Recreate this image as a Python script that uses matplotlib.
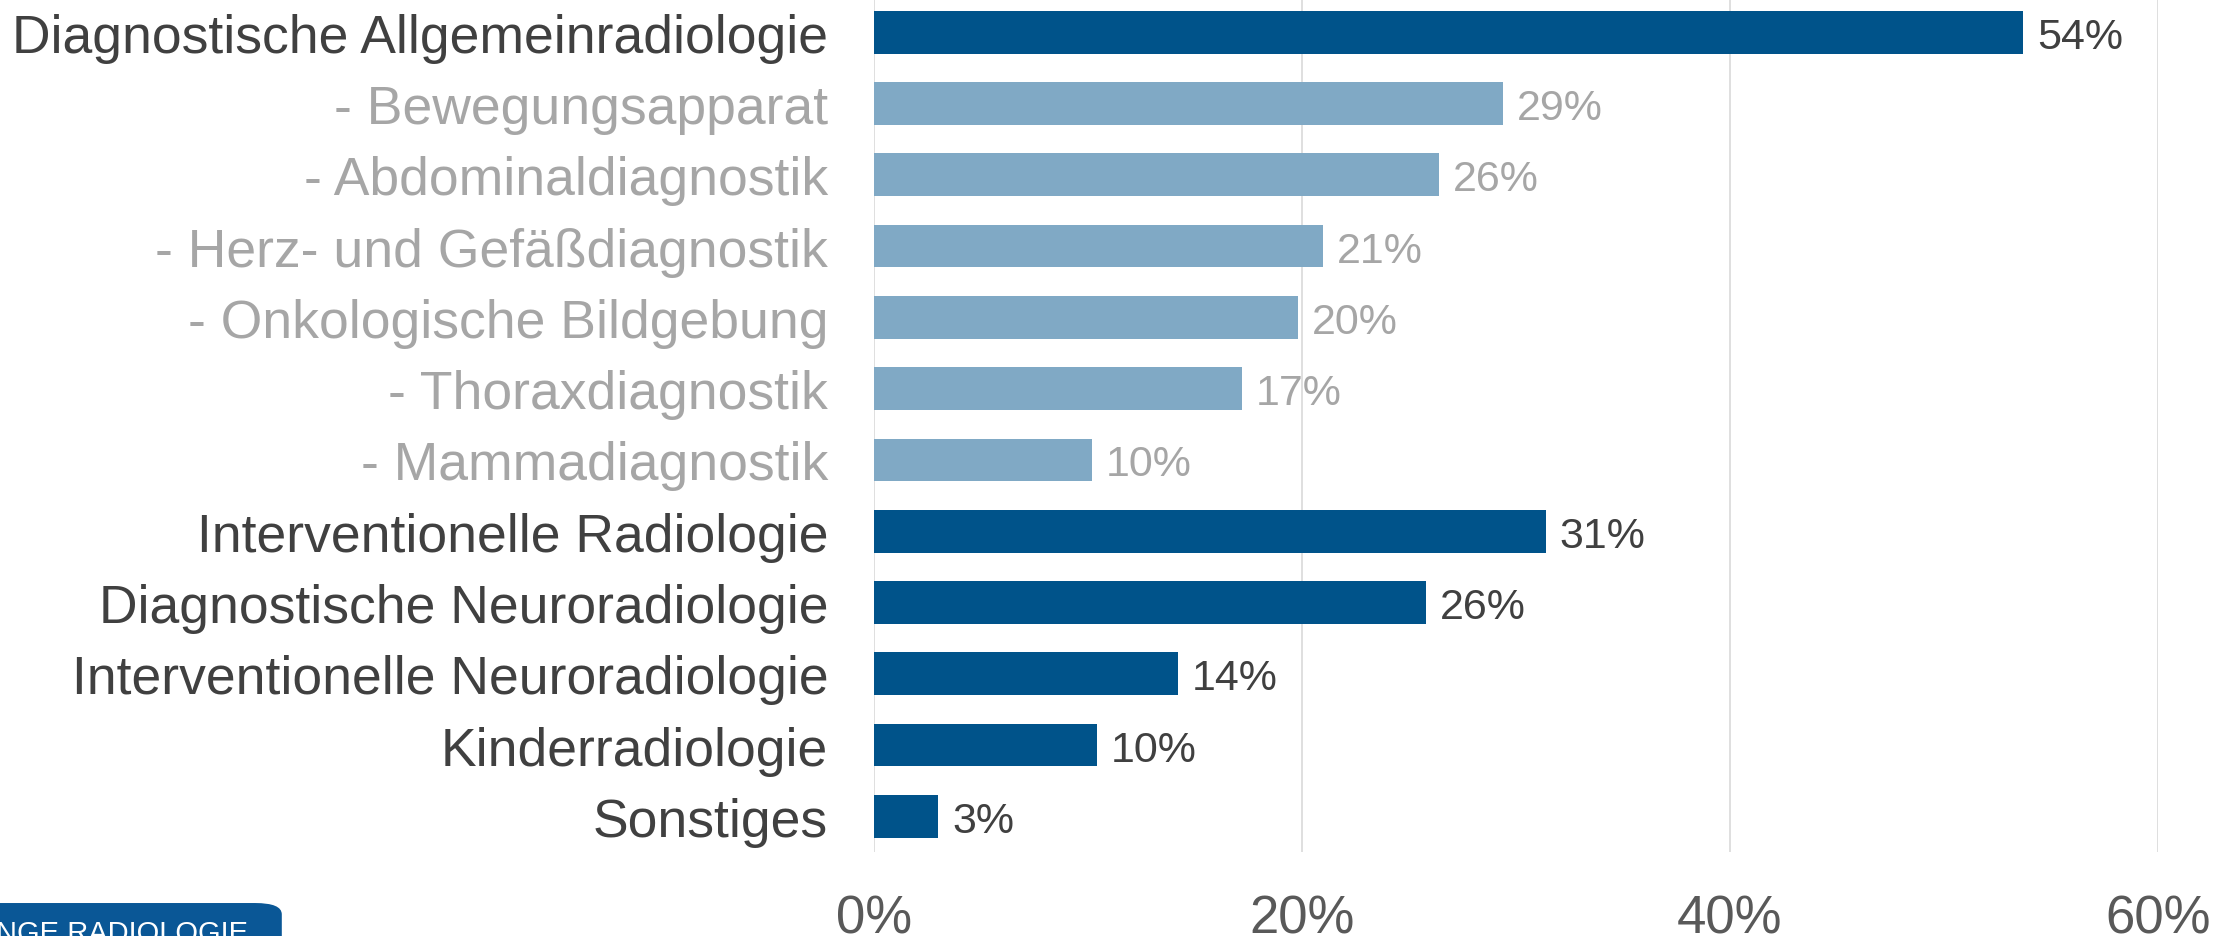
import matplotlib.pyplot as plt
from matplotlib.patches import FancyBboxPatch

categories = ['Diagnostische Allgemeinradiologie', '- Bewegungsapparat', '- Abdominaldiagnostik',
              '- Herz- und Gefäßdiagnostik', '- Onkologische Bildgebung', '- Thoraxdiagnostik',
              '- Mammadiagnostik', 'Interventionelle Radiologie', 'Diagnostische Neuroradiologie',
              'Interventionelle Neuroradiologie', 'Kinderradiologie', 'Sonstiges']
values = [53.7, 29.4, 26.4, 21.0, 19.8, 17.2, 10.2, 31.4, 25.8, 14.2, 10.4, 3.0]
is_sub = [False, True, True, True, True, True, True, False, False, False, False, False]
ticks = [0, 20, 40, 60]

dark = '#00538A'
light = '#80A9C5'

plt.rcParams['font.family'] = ['Liberation Sans', 'DejaVu Sans']
fig = plt.figure(figsize=(22.33, 9.37), dpi=100)
ax = fig.add_axes([0.3914, 0.0896, 0.575, 0.913])

y = list(range(len(categories)))
colors = [light if s else dark for s in is_sub]
ax.barh(y, values, height=0.6, color=colors, zorder=3)

for yi, v, s in zip(y, values, is_sub):
    ax.annotate(f'{v:.0f}%', (v, yi), xytext=(10, 0), textcoords='offset points',
                va='center_baseline', ha='left', fontsize=31,
                color='#A6A6A6' if s else '#404040')

ax.set_xlim(0, 60)
ax.set_ylim(len(categories) - 0.5, -0.5)
ax.set_xticks(ticks)
ax.set_xticklabels([f'{t}%' for t in ticks], fontsize=38, color='#595959')
ax.set_yticks(y)
ax.set_yticklabels(categories, fontsize=38.5)
for lbl, s in zip(ax.get_yticklabels(), is_sub):
    lbl.set_color('#A6A6A6' if s else '#404040')
ax.tick_params(axis='x', length=0, pad=30)
ax.tick_params(axis='y', length=0, pad=33)
ax.grid(axis='x', color='#D9D9D9', lw=1.2, zorder=0)
for sp in ax.spines.values():
    sp.set_visible(False)

# logo, cut off at the bottom-left corner
logo = FancyBboxPatch((-0.02, -0.05), 0.1462, 0.0852, boxstyle='round,pad=0,rounding_size=0.012',
                      transform=fig.transFigure, facecolor='#0A5796', edgecolor='none')
fig.patches.append(logo)
fig.text(-0.002, 0.018, 'NGE RADIOLOGIE', color='white', fontsize=21, ha='left', va='top')

fig.savefig('out.png', dpi=100)
